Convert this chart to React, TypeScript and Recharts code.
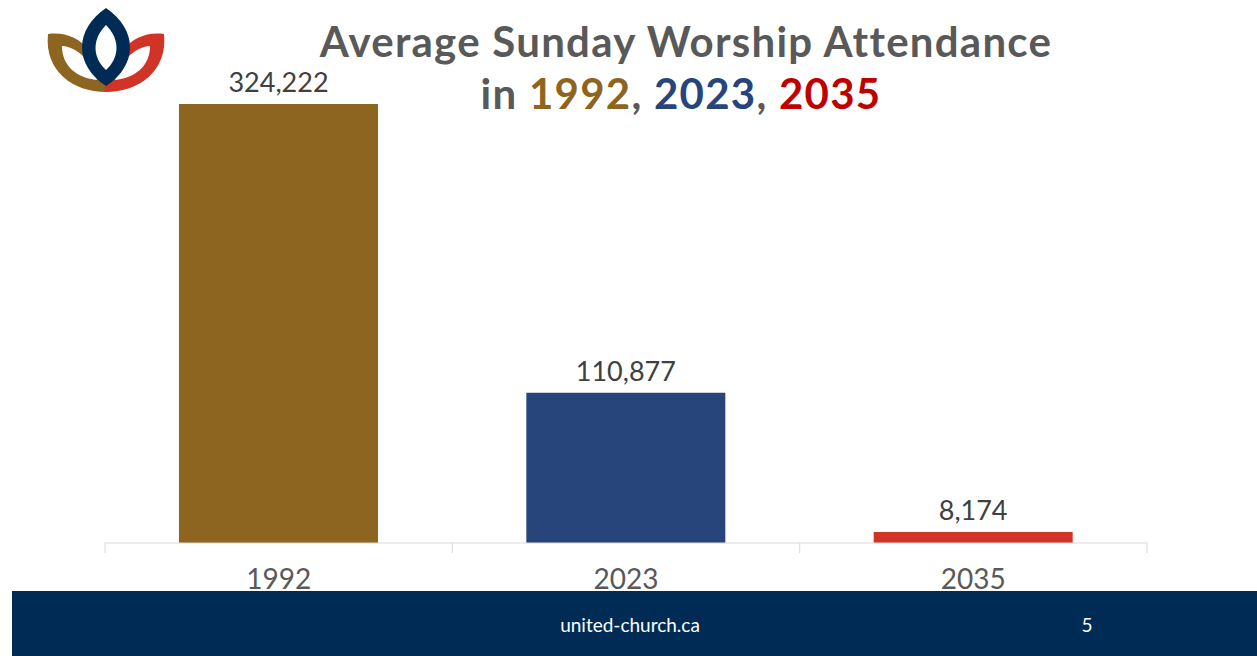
import React from 'react';
import { BarChart, Bar, XAxis, YAxis, Cell, LabelList } from 'recharts';

const categories = ['1992', '2023', '2035'];
const attendance = [324222, 110877, 8174];
const barColors = ['#8E6520', '#27457A', '#D13426'];
const titleLine1 = 'Average Sunday Worship Attendance';
const titleYears = ['1992', '2023', '2035'];
const titleYearColors = ['#8E6520', '#27457A', '#C00000'];

const data = categories.map((c, i) => ({ year: c, value: attendance[i] }));

const fmt = (v: number) => v.toLocaleString('en-US');

const CHART_W = 1257;
const M_LEFT = 105;
const M_RIGHT = 110;
const BAND = (CHART_W - M_LEFT - M_RIGHT) / categories.length;
const AXIS_Y = 543;

function BoundaryTick(props: any) {
  const { x, payload, index } = props;
  const half = BAND / 2;
  const lines = [x + half];
  if (index === 0) lines.unshift(x - half);
  return (
    <g>
      {lines.map((lx, i) => (
        <line key={i} x1={lx} x2={lx} y1={AXIS_Y} y2={AXIS_Y + 10} stroke="#D9D9D9" strokeWidth={1} />
      ))}
      <text
        x={x}
        y={589}
        textAnchor="middle"
        fill="#595959"
        fontSize={28}
        fontFamily="Lato"
      >
        {payload.value}
      </text>
    </g>
  );
}

function Logo() {
  return (
    <svg width={200} height={110} style={{ position: 'absolute', left: 0, top: 0 }}>
      <path
        fillRule="evenodd"
        fill="#8E6520"
        d="M48,34 C80,30 100,55 108,92 C75,93 44,72 48,34 Z M62,46 C78,47 92,62 97,80 C78,78 62,67 62,46 Z"
      />
      <path
        fillRule="evenodd"
        fill="#D13426"
        d="M164,34 C132,30 112,55 104,92 C137,93 168,72 164,34 Z M150,46 C134,47 120,62 115,80 C134,78 150,67 150,46 Z"
      />
      <path fill="#002B55" d="M106,8 C74,30 74,65 106,86 C138,65 138,30 106,8 Z" />
      <path fill="#FFFFFF" d="M106,25 C92,39 92,57 106,70 C120,57 120,39 106,25 Z" />
    </svg>
  );
}

export default function App() {
  return (
    <div style={{ position: 'absolute', left: 0, top: 0, width: 1257, height: 656, background: '#FFFFFF', overflow: 'hidden' }}>
      <BarChart
        width={CHART_W}
        height={656}
        data={data}
        margin={{ top: 104, right: M_RIGHT, bottom: 73, left: M_LEFT }}
      >
        <YAxis hide domain={[0, 324222]} />
        <XAxis
          dataKey="year"
          height={40}
          tickLine={false}
          axisLine={{ stroke: '#D9D9D9' }}
          tick={<BoundaryTick />}
          interval={0}
        />
        <Bar dataKey="value" barSize={199} isAnimationActive={false}>
          {data.map((d, i) => (
            <Cell key={d.year} fill={barColors[i]} />
          ))}
          <LabelList
            dataKey="value"
            position="top"
            offset={12}
            formatter={(v: any) => fmt(Number(v))}
            style={{ fill: '#404040', fontSize: 27, fontFamily: 'Lato' }}
          />
        </Bar>
      </BarChart>
      <Logo />
      <div
        style={{
          position: 'absolute',
          left: 286,
          top: 17,
          width: 800,
          textAlign: 'center',
          fontFamily: 'Lato',
          fontWeight: 700,
          fontSize: 42,
          letterSpacing: 1.25,
          lineHeight: '49px',
          color: '#595959',
          whiteSpace: 'nowrap',
        }}
      >
        <div>{titleLine1}</div>
        <div style={{ marginLeft: -10, marginTop: 3 }}>
          in <span style={{ color: titleYearColors[0] }}>{titleYears[0]}</span>,{' '}
          <span style={{ color: titleYearColors[1] }}>{titleYears[1]}</span>,{' '}
          <span style={{ color: titleYearColors[2] }}>{titleYears[2]}</span>
        </div>
      </div>
      <div
        style={{
          position: 'absolute',
          left: 12,
          top: 591,
          width: 1245,
          height: 65,
          background: '#002B55',
        }}
      >
        <div
          style={{
            position: 'absolute',
            left: 618 - 12 - 100,
            width: 224,
            top: 22,
            textAlign: 'center',
            color: '#FFFFFF',
            fontFamily: 'Lato',
            fontSize: 19,
          }}
        >
          united-church.ca
        </div>
        <div
          style={{
            position: 'absolute',
            left: 1087 - 12 - 10,
            width: 20,
            top: 22,
            textAlign: 'center',
            color: '#FFFFFF',
            fontFamily: 'Lato',
            fontSize: 19,
          }}
        >
          5
        </div>
      </div>
    </div>
  );
}
